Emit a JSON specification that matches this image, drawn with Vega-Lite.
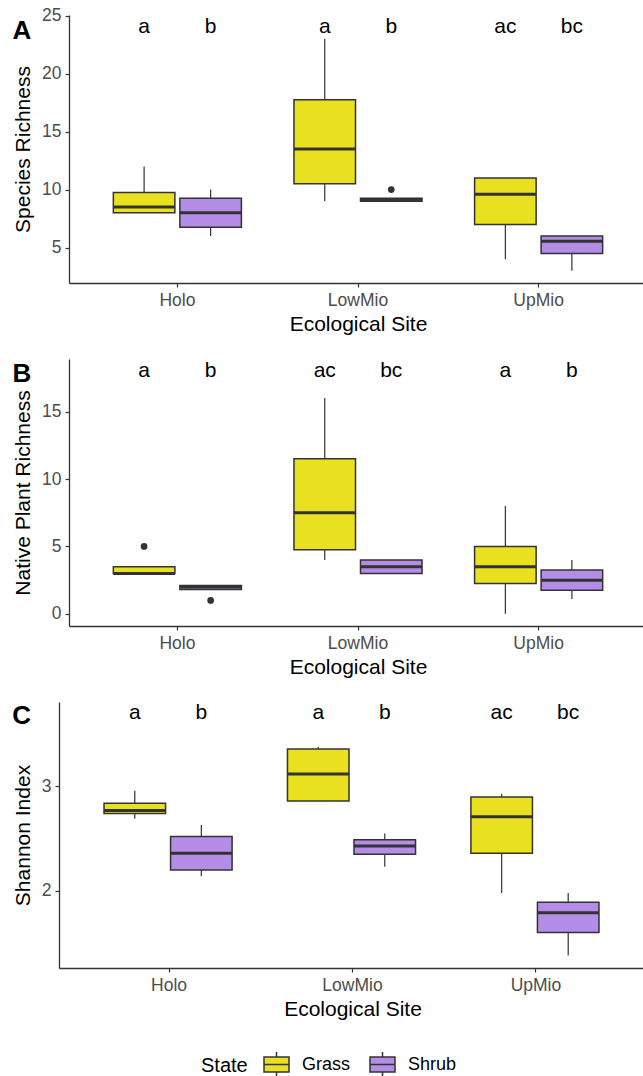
{
  "$schema": "https://vega.github.io/schema/vega-lite/v6.json",
  "background": "white",
  "padding": {"left": 12, "top": 6, "right": 0, "bottom": 0},
  "config": {
    "font": "Liberation Sans",
    "view": {"stroke": null},
    "axis": {"domainColor": "#333333", "domainWidth": 1.3, "tickColor": "#333333", "tickWidth": 1.2, "tickSize": 4, "labelColor": "#4D4D4D", "labelFontSize": 17.5, "titleFontSize": 21, "titleFontWeight": "normal", "titleColor": "#000000", "grid": false},
    "axisX": {"labelAngle": 0, "labelPadding": 4, "titlePadding": 5},
    "axisY": {"labelPadding": 4, "titlePadding": 8},
    "title": {"fontSize": 26, "fontWeight": "bold", "anchor": "start", "frame": "bounds", "color": "#000000"},
    "legend": {"titleFontSize": 20, "titleFontWeight": "normal", "titleColor": "#000000", "labelFontSize": 18, "labelColor": "#000000", "symbolType": "M-1,-0.6L1,-0.6L1,0.6L-1,0.6Z M-1,0L1,0 M0,-0.6L0,-1 M0,0.6L0,1", "symbolSize": 625, "symbolStrokeColor": "#333333", "symbolStrokeWidth": 1.5, "labelOffset": 12, "columnPadding": 16, "titlePadding": 15}
  },
  "datasets": {
    "boxes": [
      {"panel": "A", "site": "Holo", "state": "Grass", "lower": 8, "q1": 8, "median": 8.5, "q3": 9.75, "upper": 12},
      {"panel": "A", "site": "Holo", "state": "Shrub", "lower": 6, "q1": 6.75, "median": 8, "q3": 9.25, "upper": 10},
      {"panel": "A", "site": "LowMio", "state": "Grass", "lower": 9, "q1": 10.5, "median": 13.5, "q3": 17.75, "upper": 23},
      {"panel": "A", "site": "LowMio", "state": "Shrub", "lower": 9, "q1": 9, "median": 9.1, "q3": 9.25, "upper": 9.25},
      {"panel": "A", "site": "UpMio", "state": "Grass", "lower": 4, "q1": 7, "median": 9.6, "q3": 11, "upper": 11},
      {"panel": "A", "site": "UpMio", "state": "Shrub", "lower": 3, "q1": 4.5, "median": 5.55, "q3": 6, "upper": 6},
      {"panel": "B", "site": "Holo", "state": "Grass", "lower": 3, "q1": 3, "median": 3, "q3": 3.5, "upper": 3.5},
      {"panel": "B", "site": "Holo", "state": "Shrub", "lower": 1.8, "q1": 1.8, "median": 2, "q3": 2.1, "upper": 2.1},
      {"panel": "B", "site": "LowMio", "state": "Grass", "lower": 4, "q1": 4.75, "median": 7.5, "q3": 11.5, "upper": 16},
      {"panel": "B", "site": "LowMio", "state": "Shrub", "lower": 3, "q1": 3, "median": 3.5, "q3": 4, "upper": 4},
      {"panel": "B", "site": "UpMio", "state": "Grass", "lower": 0, "q1": 2.25, "median": 3.5, "q3": 5, "upper": 8},
      {"panel": "B", "site": "UpMio", "state": "Shrub", "lower": 1.1, "q1": 1.75, "median": 2.5, "q3": 3.25, "upper": 4},
      {"panel": "C", "site": "Holo", "state": "Grass", "lower": 2.69, "q1": 2.74, "median": 2.77, "q3": 2.84, "upper": 2.96},
      {"panel": "C", "site": "Holo", "state": "Shrub", "lower": 2.14, "q1": 2.2, "median": 2.36, "q3": 2.52, "upper": 2.63},
      {"panel": "C", "site": "LowMio", "state": "Grass", "lower": 2.86, "q1": 2.86, "median": 3.12, "q3": 3.36, "upper": 3.38},
      {"panel": "C", "site": "LowMio", "state": "Shrub", "lower": 2.23, "q1": 2.35, "median": 2.43, "q3": 2.49, "upper": 2.55},
      {"panel": "C", "site": "UpMio", "state": "Grass", "lower": 1.98, "q1": 2.36, "median": 2.71, "q3": 2.9, "upper": 2.93},
      {"panel": "C", "site": "UpMio", "state": "Shrub", "lower": 1.38, "q1": 1.6, "median": 1.79, "q3": 1.89, "upper": 1.98}
    ],
    "outliers": [
      {"panel": "A", "site": "LowMio", "state": "Shrub", "value": 10},
      {"panel": "B", "site": "Holo", "state": "Grass", "value": 5},
      {"panel": "B", "site": "Holo", "state": "Shrub", "value": 1}
    ],
    "letters": [
      {"panel": "A", "site": "Holo", "state": "Grass", "y": 24, "label": "a"},
      {"panel": "A", "site": "Holo", "state": "Shrub", "y": 24, "label": "b"},
      {"panel": "A", "site": "LowMio", "state": "Grass", "y": 24, "label": "a"},
      {"panel": "A", "site": "LowMio", "state": "Shrub", "y": 24, "label": "b"},
      {"panel": "A", "site": "UpMio", "state": "Grass", "y": 24, "label": "ac"},
      {"panel": "A", "site": "UpMio", "state": "Shrub", "y": 24, "label": "bc"},
      {"panel": "B", "site": "Holo", "state": "Grass", "y": 18, "label": "a"},
      {"panel": "B", "site": "Holo", "state": "Shrub", "y": 18, "label": "b"},
      {"panel": "B", "site": "LowMio", "state": "Grass", "y": 18, "label": "ac"},
      {"panel": "B", "site": "LowMio", "state": "Shrub", "y": 18, "label": "bc"},
      {"panel": "B", "site": "UpMio", "state": "Grass", "y": 18, "label": "a"},
      {"panel": "B", "site": "UpMio", "state": "Shrub", "y": 18, "label": "b"},
      {"panel": "C", "site": "Holo", "state": "Grass", "y": 3.7, "label": "a"},
      {"panel": "C", "site": "Holo", "state": "Shrub", "y": 3.7, "label": "b"},
      {"panel": "C", "site": "LowMio", "state": "Grass", "y": 3.7, "label": "a"},
      {"panel": "C", "site": "LowMio", "state": "Shrub", "y": 3.7, "label": "b"},
      {"panel": "C", "site": "UpMio", "state": "Grass", "y": 3.7, "label": "ac"},
      {"panel": "C", "site": "UpMio", "state": "Shrub", "y": 3.7, "label": "bc"}
    ]
  },
  "columns": 1,
  "spacing": 24,
  "concat": [
    {
      "title": {"text": "A", "offset": -37},
      "width": 578, "height": 268,
      "encoding": {
        "x": {"field": "site", "type": "nominal", "title": "Ecological Site", "scale": {"type": "band", "paddingInner": 0.291, "paddingOuter": 0.2455}},
        "xOffset": {"field": "state", "type": "nominal", "scale": {"paddingInner": 0.075, "paddingOuter": 0}}
      },
      "layer": [
        {"data": {"name": "boxes"}, "transform": [{"filter": "datum.panel == 'A'"}], "mark": {"type": "rule", "color": "#333333", "strokeWidth": 1.2},
         "encoding": {"y": {"field": "lower", "type": "quantitative", "title": "Species Richness", "scale": {"domain": [1.95, 25.05], "nice": false, "zero": false}, "axis": {"values": [5, 10, 15, 20, 25], "format": "d"}}, "y2": {"field": "upper"}}},
        {"data": {"name": "boxes"}, "transform": [{"filter": "datum.panel == 'A'"}], "mark": {"type": "bar", "stroke": "#333333", "strokeWidth": 1.5},
         "encoding": {"y": {"field": "q1", "type": "quantitative", "scale": {"domain": [1.95, 25.05], "nice": false, "zero": false}}, "y2": {"field": "q3"},
           "fill": {"field": "state", "type": "nominal", "title": "State", "scale": {"domain": ["Grass", "Shrub"], "range": ["#E9E120", "#B48DE6"]}, "legend": {"orient": "none", "direction": "horizontal", "titleOrient": "left", "legendX": 132, "legendY": 1036}}}},
        {"data": {"name": "boxes"}, "transform": [{"filter": "datum.panel == 'A'"}], "mark": {"type": "bar", "fill": null, "fillOpacity": 0, "stroke": "#333333", "strokeWidth": 3},
         "encoding": {"y": {"field": "median", "type": "quantitative"}, "y2": {"field": "median"}}},
        {"data": {"name": "outliers"}, "transform": [{"filter": "datum.panel == 'A'"}], "mark": {"type": "point", "filled": true, "color": "#333333", "size": 45, "opacity": 1},
         "encoding": {"y": {"field": "value", "type": "quantitative"}}},
        {"data": {"name": "letters"}, "transform": [{"filter": "datum.panel == 'A'"}], "mark": {"type": "text", "fontSize": 21, "color": "#000000", "baseline": "middle"},
         "encoding": {"y": {"field": "y", "type": "quantitative"}, "text": {"field": "label"}}}
      ]
    },
    {
      "title": {"text": "B", "offset": -28},
      "width": 578, "height": 267,
      "encoding": {
        "x": {"field": "site", "type": "nominal", "title": "Ecological Site", "scale": {"type": "band", "paddingInner": 0.291, "paddingOuter": 0.2455}},
        "xOffset": {"field": "state", "type": "nominal", "scale": {"paddingInner": 0.075, "paddingOuter": 0}}
      },
      "layer": [
        {"data": {"name": "boxes"}, "transform": [{"filter": "datum.panel == 'B'"}], "mark": {"type": "rule", "color": "#333333", "strokeWidth": 1.2},
         "encoding": {"y": {"field": "lower", "type": "quantitative", "title": "Native Plant Richness", "scale": {"domain": [-0.9, 18.9], "nice": false, "zero": false}, "axis": {"values": [0, 5, 10, 15], "format": "d"}}, "y2": {"field": "upper"}}},
        {"data": {"name": "boxes"}, "transform": [{"filter": "datum.panel == 'B'"}], "mark": {"type": "bar", "stroke": "#333333", "strokeWidth": 1.5},
         "encoding": {"y": {"field": "q1", "type": "quantitative", "scale": {"domain": [-0.9, 18.9], "nice": false, "zero": false}}, "y2": {"field": "q3"},
           "fill": {"field": "state", "type": "nominal", "title": "State", "scale": {"domain": ["Grass", "Shrub"], "range": ["#E9E120", "#B48DE6"]}, "legend": {"orient": "none", "direction": "horizontal", "titleOrient": "left", "legendX": 132, "legendY": 1036}}}},
        {"data": {"name": "boxes"}, "transform": [{"filter": "datum.panel == 'B'"}], "mark": {"type": "bar", "fill": null, "fillOpacity": 0, "stroke": "#333333", "strokeWidth": 3},
         "encoding": {"y": {"field": "median", "type": "quantitative"}, "y2": {"field": "median"}}},
        {"data": {"name": "outliers"}, "transform": [{"filter": "datum.panel == 'B'"}], "mark": {"type": "point", "filled": true, "color": "#333333", "size": 45, "opacity": 1},
         "encoding": {"y": {"field": "value", "type": "quantitative"}}},
        {"data": {"name": "letters"}, "transform": [{"filter": "datum.panel == 'B'"}], "mark": {"type": "text", "fontSize": 21, "color": "#000000", "baseline": "middle"},
         "encoding": {"y": {"field": "y", "type": "quantitative"}, "text": {"field": "label"}}}
      ]
    },
    {
      "title": {"text": "C", "offset": -27},
      "width": 577, "height": 266,
      "encoding": {
        "x": {"field": "site", "type": "nominal", "title": "Ecological Site", "scale": {"type": "band", "paddingInner": 0.291, "paddingOuter": 0.2455, "range": [-10, 577]}},
        "xOffset": {"field": "state", "type": "nominal", "scale": {"paddingInner": 0.075, "paddingOuter": 0}}
      },
      "layer": [
        {"data": {"name": "boxes"}, "transform": [{"filter": "datum.panel == 'C'"}], "mark": {"type": "rule", "color": "#333333", "strokeWidth": 1.2},
         "encoding": {"y": {"field": "lower", "type": "quantitative", "title": "Shannon Index", "scale": {"domain": [1.26, 3.81], "nice": false, "zero": false}, "axis": {"values": [2, 3], "format": "d", "offset": 10}}, "y2": {"field": "upper"}}},
        {"data": {"name": "boxes"}, "transform": [{"filter": "datum.panel == 'C'"}], "mark": {"type": "bar", "stroke": "#333333", "strokeWidth": 1.5},
         "encoding": {"y": {"field": "q1", "type": "quantitative", "scale": {"domain": [1.26, 3.81], "nice": false, "zero": false}}, "y2": {"field": "q3"},
           "fill": {"field": "state", "type": "nominal", "title": "State", "scale": {"domain": ["Grass", "Shrub"], "range": ["#E9E120", "#B48DE6"]}, "legend": {"orient": "none", "direction": "horizontal", "titleOrient": "left", "legendX": 132, "legendY": 1036}}}},
        {"data": {"name": "boxes"}, "transform": [{"filter": "datum.panel == 'C'"}], "mark": {"type": "bar", "fill": null, "fillOpacity": 0, "stroke": "#333333", "strokeWidth": 3},
         "encoding": {"y": {"field": "median", "type": "quantitative"}, "y2": {"field": "median"}}},
        {"data": {"name": "letters"}, "transform": [{"filter": "datum.panel == 'C'"}], "mark": {"type": "text", "fontSize": 21, "color": "#000000", "baseline": "middle"},
         "encoding": {"y": {"field": "y", "type": "quantitative"}, "text": {"field": "label"}}}
      ]
    }
  ]
}
